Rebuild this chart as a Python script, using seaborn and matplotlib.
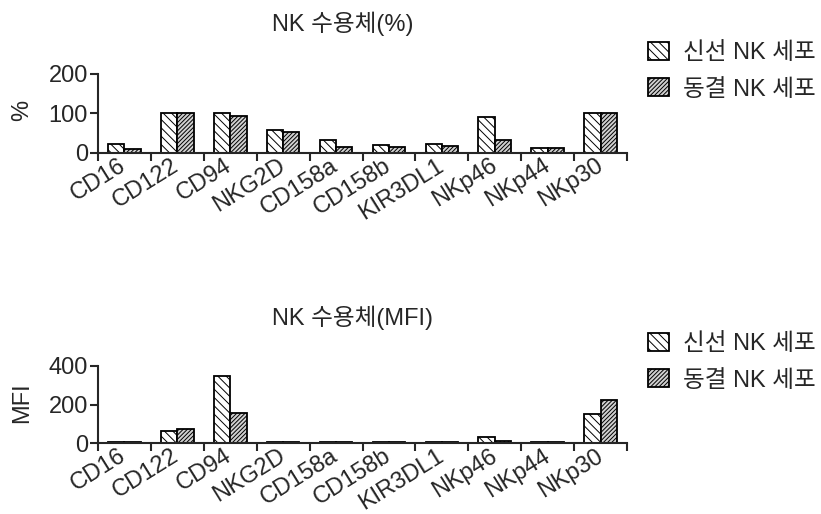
import matplotlib
matplotlib.use("Agg")
import matplotlib.pyplot as plt
import matplotlib.transforms as mtransforms
from matplotlib.patches import Patch
import numpy as np
import pandas as pd
import seaborn as sns

receptors = ["CD16", "CD122", "CD94", "NKG2D", "CD158a", "CD158b",
             "KIR3DL1", "NKp46", "NKp44", "NKp30"]
groups = ["신선 NK 세포", "동결 NK 세포"]

# percentage of cells expressing each receptor
pct_fresh = [22, 100, 100, 58, 32, 19, 22, 90, 13, 100]
pct_frozen = [9, 100, 94, 53, 14, 14, 17, 32, 13, 100]

# mean fluorescence intensity
mfi_fresh = [5, 62, 350, 5, 5, 5, 5, 31, 5, 150]
mfi_frozen = [5, 73, 159, 5, 5, 5, 5, 13, 5, 222]

pct_ticks = [0, 100, 200]
mfi_ticks = [0, 200, 400]

sns.set_style("ticks")
plt.rcParams["font.family"] = ["Liberation Sans", "Noto Sans CJK KR", "DejaVu Sans"]
plt.rcParams["hatch.linewidth"] = 0.7
plt.rcParams["hatch.color"] = "black"

FS = 17
W, H = 821, 514
fig = plt.figure(figsize=(W / 100, H / 100), dpi=100)


def px_axes(left, right, top, bottom):
    return fig.add_axes([left / W, 1 - bottom / H, (right - left) / W, (bottom - top) / H])


def long_frame(fresh, frozen):
    return pd.DataFrame({
        "receptor": receptors * 2,
        "value": list(fresh) + list(frozen),
        "group": [groups[0]] * len(receptors) + [groups[1]] * len(receptors),
    })


HATCH_FRESH = "\\\\\\\\"
HATCH_FROZEN = "////////"
FACE = {groups[0]: "white", groups[1]: "#d0d0d0"}


def panel(ax, fresh, frozen, ticks):
    df = long_frame(fresh, frozen)
    sns.barplot(data=df, x="receptor", y="value", hue="group", hue_order=groups,
                palette=FACE, saturation=1, width=0.62, dodge=True,
                edgecolor="black", linewidth=1.3, legend=False, ax=ax, errorbar=None)
    n = len(receptors)
    for i, bar in enumerate(ax.patches):
        bar.set_hatch(HATCH_FRESH if i < n else HATCH_FROZEN)
    ax.set_xlim(-0.5, n - 0.5)
    ax.set_ylim(ticks[0], ticks[-1])
    ax.set_yticks(ticks)
    ax.set_yticklabels([str(t) for t in ticks], fontsize=FS)
    # boundary ticks between categories, labels at category centres
    ax.set_xticks(np.arange(-0.5, n, 1.0))
    ax.set_xticklabels([])
    ax.set_xticks(np.arange(n), minor=True)
    ax.set_xticklabels(receptors, minor=True, rotation=32, ha="right",
                       rotation_mode="anchor", va="center", fontsize=FS)
    shift = mtransforms.ScaledTranslation(13 / 100, 0, fig.dpi_scale_trans)
    for lab in ax.get_xticklabels(minor=True):
        lab.set_transform(lab.get_transform() + shift)
    ax.tick_params(axis="x", which="minor", length=0, pad=8)
    ax.tick_params(axis="both", which="major", length=6, width=1.5, direction="out")
    ax.tick_params(axis="y", pad=1)
    for s in ("top", "right"):
        ax.spines[s].set_visible(False)
    for s in ("left", "bottom"):
        ax.spines[s].set_linewidth(1.5)
    ax.set_xlabel("")
    ax.set_ylabel("")


ax1 = px_axes(97.7, 627.3, 74, 152.7)
panel(ax1, pct_fresh, pct_frozen, pct_ticks)
ax2 = px_axes(97.7, 627.3, 366, 443.3)
panel(ax2, mfi_fresh, mfi_frozen, mfi_ticks)

fig.text(272 / W, 1 - 24 / H, "NK 수용체(%)", fontsize=FS, ha="left", va="center")
fig.text(272 / W, 1 - 318 / H, "NK 수용체(MFI)", fontsize=FS, ha="left", va="center")
fig.text(22 / W, 1 - 110 / H, "%", fontsize=FS, rotation=90, ha="center", va="center")
fig.text(22 / W, 1 - 403 / H, "MFI", fontsize=FS, rotation=90, ha="center", va="center")

handles = [
    Patch(facecolor=FACE[groups[0]], edgecolor="black", hatch=HATCH_FRESH, linewidth=1.3),
    Patch(facecolor=FACE[groups[1]], edgecolor="black", hatch=HATCH_FROZEN, linewidth=1.3),
]
for top in (42, 333):
    fig.legend(handles, groups, loc="upper left", bbox_to_anchor=(648 / W, 1 - top / H),
               frameon=False, fontsize=FS, borderpad=0, borderaxespad=0,
               handlelength=0.9, handleheight=0.8, handletextpad=0.6,
               labelspacing=0.6)

fig.savefig("out.png", dpi=100)
